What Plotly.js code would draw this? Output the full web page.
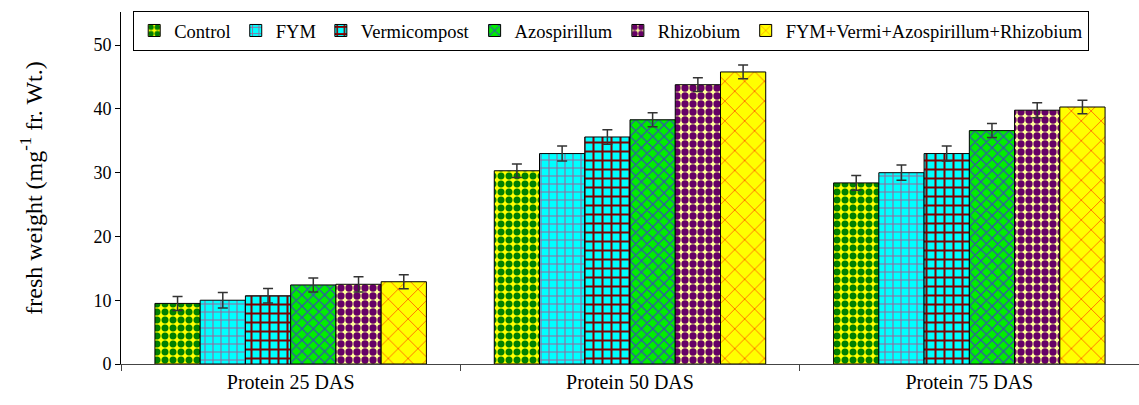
<!DOCTYPE html>
<html>
<head>
<meta charset="utf-8">
<script src="https://cdn.plot.ly/plotly-3.0.1.min.js"></script>
<style>html,body{margin:0;padding:0;background:#fff;}#chart{width:1139px;height:405px;}</style>
</head>
<body>
<div id="chart"></div>
<script>
const categories = ["Protein 25 DAS", "Protein 50 DAS", "Protein 75 DAS"];
const seriesNames = ["Control", "FYM", "Vermicompost", "Azospirillum", "Rhizobium", "FYM+Vermi+Azospirillum+Rhizobium"];
const control = [9.5, 30.3, 28.4];
const fym = [10.0, 33.0, 30.0];
const vermicompost = [10.7, 35.6, 33.0];
const azospirillum = [12.4, 38.3, 36.6];
const rhizobium = [12.5, 43.8, 39.8];
const combined = [12.9, 45.8, 40.3];
const errControl = [1.1, 1.07, 1.17];
const errFym = [1.2, 1.17, 1.2];
const errVermi = [1.15, 1.15, 1.17];
const errAzo = [1.1, 1.1, 1.1];
const errRhizo = [1.2, 1.07, 1.17];
const errCombined = [1.1, 1.07, 1.07];

const values = [control, fym, vermicompost, azospirillum, rhizobium, combined];
const errors = [errControl, errFym, errVermi, errAzo, errRhizo, errCombined];
const styles = [
  {shape: ".", bg: "#ffff00", fg: "#008000", size: 8, solidity: 0.6},
  {shape: "+", bg: "#00ffff", fg: "#996699", size: 8, solidity: 0.25},
  {shape: "+", bg: "#00ffff", fg: "#800000", size: 9, solidity: 0.4},
  {shape: "x", bg: "#00ee00", fg: "#3355aa", size: 8, solidity: 0.3},
  {shape: ".", bg: "#ffff99", fg: "#660066", size: 8, solidity: 0.65},
  {shape: "x", bg: "#ffff00", fg: "#ff6600", size: 14, solidity: 0.12}
];

const traces = seriesNames.map((name, i) => ({
  type: "bar",
  name: name,
  x: categories,
  y: values[i],
  error_y: {type: "data", array: errors[i], visible: true, color: "#333333", thickness: 1.5, width: 5},
  marker: {
    color: styles[i].bg,
    line: {color: "#000000", width: 1},
    pattern: {shape: styles[i].shape, bgcolor: styles[i].bg, fgcolor: styles[i].fg, fgopacity: 1, size: styles[i].size, solidity: styles[i].solidity, fillmode: "overlay"}
  }
}));

const font = "Liberation Serif";
const layout = {
  width: 1139, height: 405,
  margin: {l: 121, r: 0, t: 12, b: 41},
  paper_bgcolor: "#ffffff", plot_bgcolor: "#ffffff",
  barmode: "group", bargap: 0.2, bargroupgap: 0,
  font: {family: font, color: "#000000"},
  showlegend: true,
  legend: {
    orientation: "h", x: 0.012, y: 1.003, xanchor: "left", yanchor: "top",
    bordercolor: "#000000", borderwidth: 1, bgcolor: "#ffffff",
    font: {family: font, size: 18.5, color: "#000000"},
    itemwidth: 30, tracegroupgap: 0
  },
  xaxis: {
    type: "category", showline: true, linecolor: "#444444", linewidth: 1,
    ticks: "outside", tickson: "boundaries", ticklen: 6, tickcolor: "#444444",
    tickfont: {family: font, size: 20}, showgrid: false, zeroline: false
  },
  yaxis: {
    range: [0, 55.2], tickvals: [0, 10, 20, 30, 40, 50],
    showline: true, linecolor: "#000000", linewidth: 1,
    ticks: "outside", ticklen: 5, tickcolor: "#000000",
    tickfont: {family: font, size: 18}, showgrid: false, zeroline: false,
    title: {text: "fresh weight (mg<sup>-1</sup> fr. Wt.)", font: {family: font, size: 24}, standoff: 44}
  }
};

Plotly.newPlot("chart", traces, layout, {displayModeBar: false, staticPlot: true});
</script>
</body>
</html>
